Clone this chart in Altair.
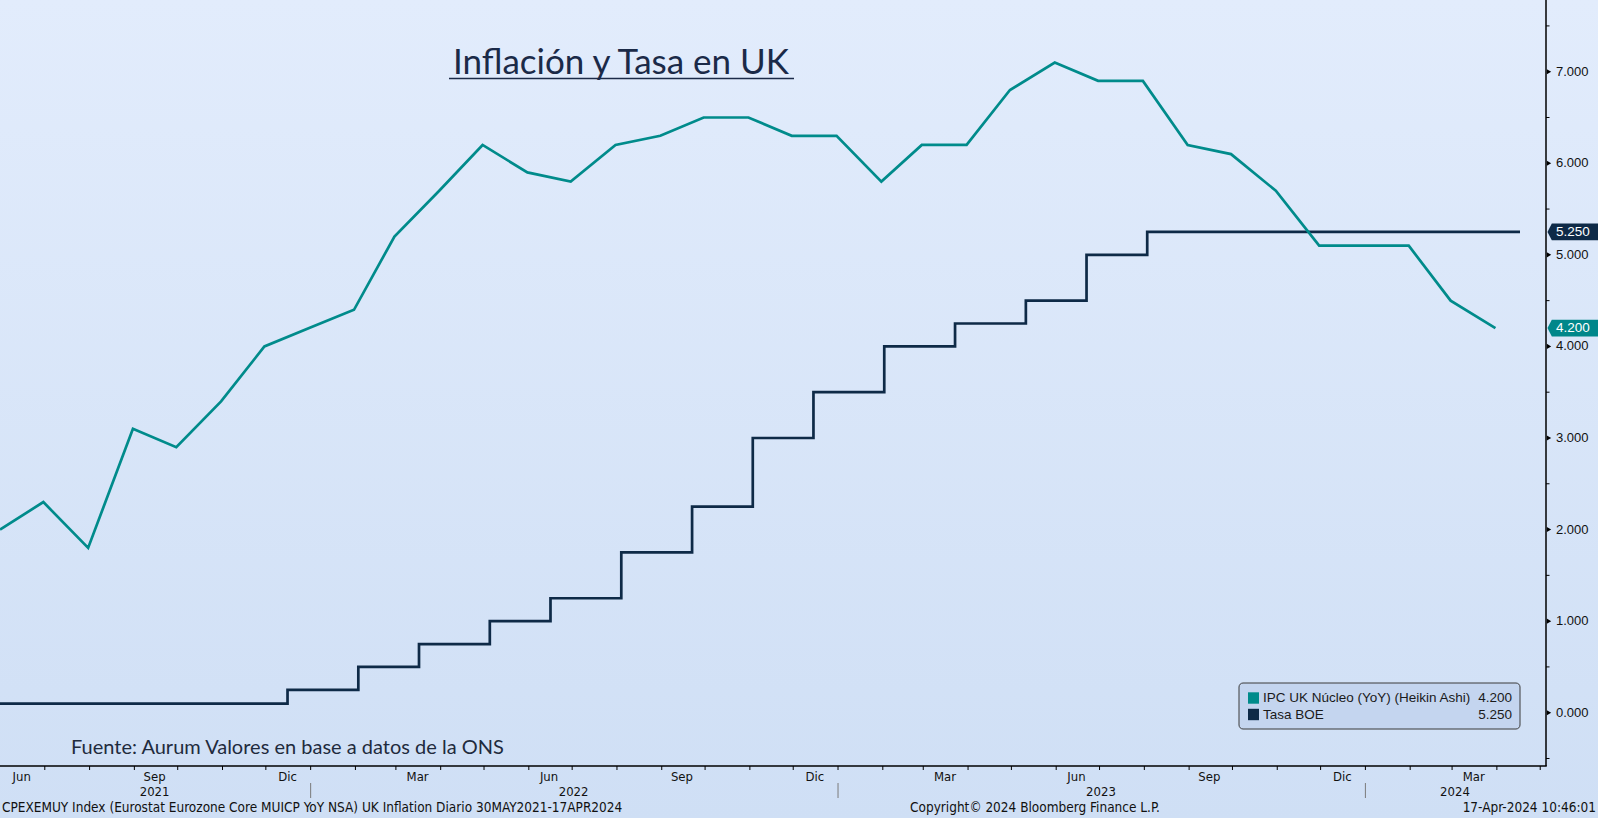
import altair as alt
import pandas as pd

# ---------------- data ----------------
# UK core CPI, YoY %, monthly (plotted at month end)
cpi_dates = [
    "2021-05-31", "2021-06-30", "2021-07-31", "2021-08-31", "2021-09-30", "2021-10-31",
    "2021-11-30", "2021-12-31", "2022-01-31", "2022-02-28", "2022-03-31", "2022-04-30",
    "2022-05-31", "2022-06-30", "2022-07-31", "2022-08-31", "2022-09-30", "2022-10-31",
    "2022-11-30", "2022-12-31", "2023-01-31", "2023-02-28", "2023-03-31", "2023-04-30",
    "2023-05-31", "2023-06-30", "2023-07-31", "2023-08-31", "2023-09-30", "2023-10-31",
    "2023-11-30", "2023-12-31", "2024-01-31", "2024-02-29", "2024-03-31",
]
cpi_values = [
    2.0, 2.3, 1.8, 3.1, 2.9, 3.4, 4.0, 4.2, 4.4, 5.2, 5.7, 6.2,
    5.9, 5.8, 6.2, 6.3, 6.5, 6.5, 6.3, 6.3, 5.8, 6.2, 6.2, 6.8,
    7.1, 6.9, 6.9, 6.2, 6.1, 5.7, 5.1, 5.1, 5.1, 4.5, 4.2,
]

# Bank of England bank rate, %, at each decision date
boe_dates = [
    "2021-05-31", "2021-12-16", "2022-02-03", "2022-03-17", "2022-05-05", "2022-06-16",
    "2022-08-04", "2022-09-22", "2022-11-03", "2022-12-15", "2023-02-02", "2023-03-23",
    "2023-05-11", "2023-06-22", "2023-08-03", "2024-04-17",
]
boe_rates = [
    0.10, 0.25, 0.50, 0.75, 1.00, 1.25,
    1.75, 2.25, 3.00, 3.50, 4.00, 4.25,
    4.50, 5.00, 5.25, 5.25,
]

# axis furniture
month_ticks = pd.date_range("2021-07-01", "2024-05-01", freq="MS").strftime("%Y-%m-%d").tolist()
quarter_label_dates = [
    "2021-06-15", "2021-09-15", "2021-12-16", "2022-03-16", "2022-06-15", "2022-09-15",
    "2022-12-16", "2023-03-16", "2023-06-15", "2023-09-15", "2023-12-16", "2024-03-16",
]
quarter_labels = ["Jun", "Sep", "Dic", "Mar", "Jun", "Sep", "Dic", "Mar", "Jun", "Sep", "Dic", "Mar"]
year_label_dates = ["2021-09-15", "2022-07-02", "2023-07-02", "2024-03-03"]
year_labels = ["2021", "2022", "2023", "2024"]
year_breaks = ["2022-01-01", "2023-01-01", "2024-01-01"]
y_major = [0, 1, 2, 3, 4, 5, 6, 7]
y_minor = [-0.5, 0.5, 1.5, 2.5, 3.5, 4.5, 5.5, 6.5, 7.5]

series_names = ["IPC UK Núcleo (YoY) (Heikin Ashi)", "Tasa BOE"]

# ---------------- style ----------------
W, H = 1546, 766
TEAL = "#008b8b"
TEAL_TAG = "#00878a"
NAVY = "#0e2a47"
INK = "#1b2a48"
BBG_FONT = "Liberation Sans"
COND_FONT = "DejaVu Sans Condensed, Liberation Sans Narrow, sans-serif"
TITLE_FONT = "Lato"
TAG_PATH = "M-1,0 L-0.83,-0.33 L1,-0.33 L1,0.33 L-0.83,0.33 Z"

xscale = alt.Scale(
    type="utc",
    domain=[
        alt.DateTime(year=2021, month=5, date=31, utc=True),
        alt.DateTime(year=2024, month=5, date=5, utc=True),
    ],
)
yscale = alt.Scale(domain=[-0.582, 7.783], nice=False, zero=False)


def X():
    return alt.X("date:T", scale=xscale, axis=None)


def Y(field="v"):
    return alt.Y(f"{field}:Q", scale=yscale, axis=None)


one = alt.Data(values=[{}])

cpi_df = pd.DataFrame({"date": cpi_dates, "v": cpi_values})
boe_df = pd.DataFrame({"date": boe_dates, "v": boe_rates})

# background wash
bg = alt.Chart(one).mark_rect(
    fill=alt.LinearGradient(
        gradient="linear", x1=0, x2=0, y1=0, y2=1,
        stops=[alt.GradientStop(color="#e2ecfc", offset=0),
               alt.GradientStop(color="#cfdff5", offset=1)],
    )
).encode(x=alt.value(0), x2=alt.value(W + 52), y=alt.value(0), y2=alt.value(H + 52))

boe_line = alt.Chart(boe_df).mark_line(
    interpolate="step-after", color=NAVY, strokeWidth=2.7, clip=True
).encode(x=X(), y=Y())

cpi_line = alt.Chart(cpi_df).mark_line(
    color=TEAL, strokeWidth=2.7, clip=True
).encode(x=X(), y=Y())

# ---- frame: time axis along the bottom, price axis on the right ----
x_domain = alt.Chart(one).mark_rule(color="#000", strokeWidth=1.5).encode(
    x=alt.value(0), x2=alt.value(W + 0.75), y=alt.value(H)
)
y_domain = alt.Chart(one).mark_rule(color="#000", strokeWidth=1.5).encode(
    x=alt.value(W), y=alt.value(0), y2=alt.value(H)
)
x_ticks = alt.Chart(pd.DataFrame({"date": month_ticks})).mark_rule(
    color="#000", strokeWidth=1
).encode(x=X(), y=alt.value(H), y2=alt.value(H + 4))

y_minor_ticks = alt.Chart(pd.DataFrame({"v": y_minor})).mark_rule(
    color="#000", strokeWidth=1
).encode(x=alt.value(W), x2=alt.value(W + 3.5), y=Y())

arrows = alt.Chart(pd.DataFrame({"v": y_major})).mark_point(
    shape="triangle-right", filled=True, size=26, color="#000", opacity=1
).encode(x=alt.value(W + 3), y=Y())

y_labels = alt.Chart(
    pd.DataFrame({"v": y_major, "t": [f"{v:.3f}" for v in y_major]})
).mark_text(
    align="left", baseline="middle", font=BBG_FONT, fontSize=13, color="#111"
).encode(x=alt.value(W + 10), y=Y(), text="t:N")

# last-value tags
tag_df = pd.DataFrame({
    "v": [boe_rates[-1], cpi_values[-1]],
    "label": [f"{boe_rates[-1]:.3f}", f"{cpi_values[-1]:.3f}"],
    "c": [NAVY, TEAL_TAG],
})
tags = alt.Chart(tag_df).mark_point(
    shape=TAG_PATH, filled=True, size=2560, strokeWidth=0, opacity=1
).encode(x=alt.value(W + 26.8), y=Y(), color=alt.Color("c:N", scale=None))
tag_text = alt.Chart(tag_df).mark_text(
    align="left", baseline="middle", color="#ffffff", font=BBG_FONT, fontSize=13.5
).encode(x=alt.value(W + 10), y=Y(), text="label:N")

# month / year labels under the time axis
q_df = pd.DataFrame({"date": quarter_label_dates, "t": quarter_labels})
q_text = alt.Chart(q_df).mark_text(
    align="center", baseline="middle", font=COND_FONT, fontSize=13, color="#111"
).encode(x=X(), y=alt.value(H + 11), text="t:N")

yr_df = pd.DataFrame({"date": year_label_dates, "t": year_labels})
yr_text = alt.Chart(yr_df).mark_text(
    align="center", baseline="middle", font=COND_FONT, fontSize=13, color="#111"
).encode(x=X(), y=alt.value(H + 26), text="t:N")

yb_df = pd.DataFrame({"date": year_breaks})
yr_rules = alt.Chart(yb_df).mark_rule(color="#7a7a7a", strokeWidth=1).encode(
    x=X(), y=alt.value(H + 17), y2=alt.value(H + 32)
)

# footer line
footer_left = alt.Chart(one).mark_text(
    align="left", baseline="middle", font=COND_FONT, fontSize=13.5, color="#111",
    text="CPEXEMUY Index (Eurostat Eurozone Core MUICP YoY NSA) UK Inflation  Diario 30MAY2021-17APR2024",
).encode(x=alt.value(2), y=alt.value(H + 42))
footer_mid = alt.Chart(one).mark_text(
    align="center", baseline="middle", font=COND_FONT, fontSize=13.5, color="#111",
    text="Copyright© 2024 Bloomberg Finance L.P.",
).encode(x=alt.value(1035), y=alt.value(H + 42))
footer_right = alt.Chart(one).mark_text(
    align="right", baseline="middle", font=COND_FONT, fontSize=13.5, color="#111",
    text="17-Apr-2024 10:46:01",
).encode(x=alt.value(W + 50), y=alt.value(H + 42))

# title with underline, and source note
title = alt.Chart(one).mark_text(
    align="center", baseline="alphabetic", font=TITLE_FONT, fontSize=35, color=INK,
    text="Inflación y Tasa en UK",
).encode(x=alt.value(621), y=alt.value(74))
underline = alt.Chart(one).mark_rule(color=INK, strokeWidth=1.6).encode(
    x=alt.value(449), x2=alt.value(794), y=alt.value(78.5)
)
source = alt.Chart(one).mark_text(
    align="left", baseline="middle", font=TITLE_FONT, fontSize=20, color="#1f2b3d",
    text="Fuente: Aurum Valores en base a datos de la ONS",
).encode(x=alt.value(71), y=alt.value(748))

# legend box
leg_box = alt.Chart(one).mark_rect(
    fill="#c4d5ef", stroke="#3a3a3a", strokeWidth=1, cornerRadius=4
).encode(x=alt.value(1239), x2=alt.value(1520), y=alt.value(683), y2=alt.value(729))

leg_layers = []
for i, (name, col, val) in enumerate(
    [(series_names[0], TEAL, cpi_values[-1]), (series_names[1], NAVY, boe_rates[-1])]
):
    yc = 698 + 16.5 * i
    row = alt.Data(values=[{"name": name, "val": f"{val:.3f}"}])
    leg_layers.append(
        alt.Chart(row).mark_rect(color=col).encode(
            x=alt.value(1248), x2=alt.value(1259), y=alt.value(yc - 5.7), y2=alt.value(yc + 5.7)
        )
    )
    leg_layers.append(
        alt.Chart(row).mark_text(
            align="left", baseline="middle", font=BBG_FONT, fontSize=13.5, color="#1a1a1a"
        ).encode(x=alt.value(1263), y=alt.value(yc), text="name:N")
    )
    leg_layers.append(
        alt.Chart(row).mark_text(
            align="right", baseline="middle", font=BBG_FONT, fontSize=13.5, color="#1a1a1a"
        ).encode(x=alt.value(1512), y=alt.value(yc), text="val:N")
    )

chart = alt.layer(
    bg, boe_line, cpi_line,
    x_domain, y_domain, x_ticks, y_minor_ticks, arrows, y_labels, tags, tag_text,
    q_text, yr_text, yr_rules, footer_left, footer_mid, footer_right,
    title, underline, source, leg_box, *leg_layers,
).properties(
    width=W, height=H,
    autosize=alt.AutoSizeParams(type="none"),
    padding={"left": 0, "top": 0, "right": 52, "bottom": 52},
    background="#d8e5f8",
).configure_view(stroke=None)

chart.save("out.html", embed_options={"renderer": "svg", "actions": False})
